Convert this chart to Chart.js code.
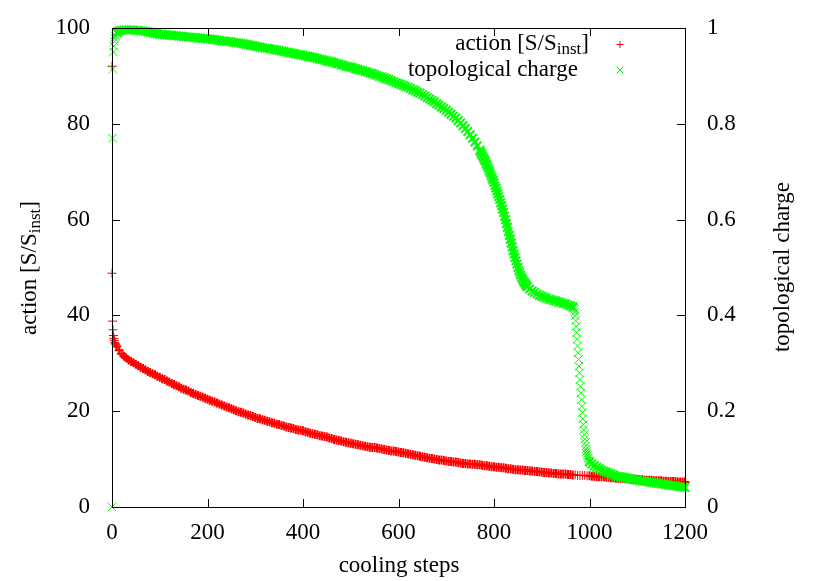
<!DOCTYPE html>
<html>
<head>
<meta charset="utf-8">
<script src="https://cdn.jsdelivr.net/npm/chart.js@4.4.0/dist/chart.umd.min.js"></script>
<style>
  html, body { margin: 0; padding: 0; background: #fff; }
</style>
</head>
<body>
<canvas id="chart" width="830" height="581"></canvas>
<script>
// ticks
const xTicks = [0, 200, 400, 600, 800, 1000, 1200];
const yTicks = [0, 20, 40, 60, 80, 100];
const y2Ticks = [0, 0.2, 0.4, 0.6, 0.8, 1];

// action [S/S_inst] (left axis)
const actionSteps = [
  0, 0, 1, 2, 3, 4, 5, 6, 7, 8,
  10, 15, 20, 25, 30, 35, 40, 45, 50, 55, 60, 65, 70, 75, 80, 85, 90, 95, 100,
  105, 110, 115, 120, 125, 130, 135, 140, 145, 150, 155, 160, 165, 170, 175, 180, 185, 190, 195, 200,
  205, 210, 215, 220, 225, 230, 235, 240, 245, 250, 255, 260, 265, 270, 275, 280, 285, 290, 295, 300,
  305, 310, 315, 320, 325, 330, 335, 340, 345, 350, 355, 360, 365, 370, 375, 380, 385, 390, 395, 400,
  405, 410, 415, 420, 425, 430, 435, 440, 445, 450, 455, 460, 465, 470, 475, 480, 485, 490, 495, 500,
  505, 510, 515, 520, 525, 530, 535, 540, 545, 550, 555, 560, 565, 570, 575, 580, 585, 590, 595, 600,
  605, 610, 615, 620, 625, 630, 635, 640, 645, 650, 655, 660, 665, 670, 675, 680, 685, 690, 695, 700,
  705, 710, 715, 720, 725, 730, 735, 740, 745, 750, 755, 760, 765, 770, 775, 780, 785, 790, 795, 800,
  805, 810, 815, 820, 825, 830, 835, 840, 845, 850, 855, 860, 865, 870, 875, 880, 885, 890, 895, 900,
  905, 910, 915, 920, 925, 930, 935, 940, 945, 950, 955, 960, 965, 970, 975, 980, 985, 990, 995, 1000,
  1005, 1010, 1015, 1020, 1025, 1030, 1035, 1040, 1045, 1050, 1055, 1060, 1065, 1070, 1075, 1080, 1085, 1090, 1095, 1100,
  1105, 1110, 1115, 1120, 1125, 1130, 1135, 1140, 1145, 1150, 1155, 1160, 1165, 1170, 1175, 1180, 1185, 1190, 1195, 1200
];
const actionValues = [
  92.0, 48.8, 38.8, 37.0, 35.8, 35.2, 34.8, 34.4, 34.1, 33.9,
  33.5, 32.7, 32.0, 31.5, 31.1, 30.7, 30.4, 30.1, 29.8, 29.5, 29.2, 28.9, 28.6, 28.3, 28.1, 27.8, 27.6, 27.3, 27.1,
  26.8, 26.6, 26.3, 26.1, 25.8, 25.6, 25.3, 25.1, 24.8, 24.6, 24.4, 24.2, 23.9, 23.7, 23.5, 23.3, 23.1, 22.9, 22.7, 22.5,
  22.3, 22.1, 21.9, 21.7, 21.5, 21.3, 21.1, 20.9, 20.7, 20.5, 20.3, 20.1, 19.9, 19.8, 19.6, 19.4, 19.2, 19.1, 18.9, 18.7,
  18.5, 18.4, 18.2, 18.1, 17.9, 17.8, 17.6, 17.5, 17.3, 17.2, 17.0, 16.9, 16.7, 16.6, 16.5, 16.4, 16.2, 16.1, 16.0, 15.9,
  15.7, 15.6, 15.4, 15.3, 15.2, 15.1, 14.9, 14.8, 14.7, 14.6, 14.4, 14.3, 14.1, 14.0, 13.9, 13.8, 13.6, 13.5, 13.4, 13.3,
  13.2, 13.1, 13.0, 12.9, 12.8, 12.7, 12.6, 12.5, 12.4, 12.4, 12.3, 12.2, 12.1, 12.0, 11.9, 11.8, 11.7, 11.7, 11.6, 11.5,
  11.4, 11.3, 11.2, 11.1, 11.0, 10.9, 10.8, 10.7, 10.6, 10.5, 10.4, 10.3, 10.2, 10.1, 10.0, 9.9, 9.8, 9.8, 9.7, 9.6,
  9.5, 9.5, 9.4, 9.4, 9.3, 9.2, 9.1, 9.1, 9.0, 9.0, 8.9, 8.9, 8.8, 8.8, 8.7, 8.6, 8.6, 8.5, 8.4, 8.4,
  8.3, 8.3, 8.2, 8.2, 8.1, 8.0, 8.0, 7.9, 7.8, 7.8, 7.7, 7.7, 7.6, 7.6, 7.5, 7.5, 7.4, 7.4, 7.3, 7.3,
  7.2, 7.2, 7.1, 7.1, 7.0, 7.0, 6.9, 6.9, 6.9, 6.9, 6.8, 6.8, 6.7, 6.7, 6.6, 6.6, 6.6, 6.6, 6.5, 6.5,
  6.4, 6.4, 6.3, 6.3, 6.3, 6.3, 6.2, 6.2, 6.1, 6.1, 6.0, 6.0, 6.0, 6.0, 5.9, 5.9, 5.8, 5.8, 5.8, 5.8,
  5.7, 5.7, 5.6, 5.6, 5.6, 5.6, 5.5, 5.5, 5.5, 5.5, 5.4, 5.4, 5.3, 5.3, 5.3, 5.3, 5.2, 5.2, 5.2, 5.2
];

// topological charge (right axis)
const chargeSteps = [
  0, 1, 2, 3, 4, 5, 6, 7, 8, 10, 12, 15, 20, 25,
  30, 35, 40, 45, 50, 55, 60, 65, 70, 75, 80, 85, 90, 95, 100,
  105, 110, 115, 120, 125, 130, 135, 140, 145, 150, 155, 160, 165, 170, 175, 180, 185, 190, 195, 200,
  205, 210, 215, 220, 225, 230, 235, 240, 245, 250, 255, 260, 265, 270, 275, 280, 285, 290, 295, 300,
  305, 310, 315, 320, 325, 330, 335, 340, 345, 350, 355, 360, 365, 370, 375, 380, 385, 390, 395, 400,
  405, 410, 415, 420, 425, 430, 435, 440, 445, 450, 455, 460, 465, 470, 475, 480, 485, 490, 495, 500,
  505, 510, 515, 520, 525, 530, 535, 540, 545, 550, 555, 560, 565, 570, 575, 580, 585, 590, 595, 600,
  605, 610, 615, 620, 625, 630, 635, 640, 645, 650, 655, 660, 665, 670, 675, 680, 685, 690, 695, 700,
  705, 710, 715, 720, 725, 730, 735, 740, 745, 750, 755, 760, 765,
  770, 772, 774, 776, 778, 780, 782, 784, 786, 788, 790, 792, 794, 796, 798, 800,
  802, 804, 806, 808, 810, 812, 814, 816, 818, 820, 822, 824, 826, 828, 830,
  832, 834, 836, 838, 840, 842, 844, 846, 848, 850, 852, 854, 856, 858, 860,
  862, 864, 866, 868, 870, 875, 880, 885, 890, 895, 900,
  905, 910, 915, 920, 925, 930, 935, 940, 945, 950, 955, 960, 965,
  966, 967, 968, 969, 970, 971, 972, 973, 974, 975,
  976, 977, 978, 979, 980, 981, 982, 983, 984, 985,
  986, 987, 988, 989, 990, 991, 992, 993, 994, 995,
  996, 997, 998, 999, 1000,
  1005, 1010, 1015, 1020, 1025, 1030, 1035, 1040, 1045, 1050, 1055, 1060, 1065, 1070, 1075, 1080, 1085, 1090, 1095, 1100,
  1105, 1110, 1115, 1120, 1125, 1130, 1135, 1140, 1145, 1150, 1155, 1160, 1165, 1170, 1175, 1180, 1185, 1190, 1195, 1200
];
const chargeValues = [
  0.0, 0.770, 0.914, 0.950, 0.962, 0.972, 0.978, 0.982, 0.985, 0.990, 0.992, 0.994, 0.995, 0.996,
  0.996, 0.996, 0.996, 0.996, 0.995, 0.995, 0.994, 0.994, 0.993, 0.992, 0.991, 0.990, 0.989, 0.988, 0.987,
  0.987, 0.986, 0.986, 0.985, 0.985, 0.984, 0.984, 0.983, 0.983, 0.982, 0.982, 0.981, 0.981, 0.980, 0.980, 0.979, 0.979, 0.978, 0.978, 0.977,
  0.977, 0.976, 0.976, 0.975, 0.974, 0.973, 0.973, 0.972, 0.972, 0.971, 0.970, 0.969, 0.969, 0.968, 0.967, 0.966, 0.965, 0.964, 0.963, 0.962,
  0.961, 0.960, 0.959, 0.958, 0.958, 0.957, 0.956, 0.955, 0.954, 0.953, 0.952, 0.951, 0.950, 0.949, 0.948, 0.947, 0.946, 0.945, 0.944, 0.943,
  0.942, 0.941, 0.940, 0.939, 0.938, 0.936, 0.935, 0.934, 0.933, 0.931, 0.930, 0.929, 0.928, 0.926, 0.925, 0.923, 0.922, 0.920, 0.919, 0.918,
  0.917, 0.915, 0.914, 0.912, 0.911, 0.909, 0.908, 0.906, 0.905, 0.903, 0.901, 0.899, 0.898, 0.896, 0.894, 0.892, 0.890, 0.888, 0.886, 0.884,
  0.882, 0.880, 0.878, 0.876, 0.874, 0.871, 0.869, 0.866, 0.864, 0.861, 0.858, 0.855, 0.852, 0.849, 0.846, 0.842, 0.839, 0.835, 0.832, 0.828,
  0.824, 0.820, 0.816, 0.812, 0.807, 0.802, 0.796, 0.790, 0.784, 0.777, 0.770, 0.762, 0.754,
  0.745, 0.741, 0.737, 0.733, 0.729, 0.725, 0.721, 0.716, 0.712, 0.707, 0.702, 0.697, 0.692, 0.687, 0.682, 0.677,
  0.671, 0.666, 0.660, 0.654, 0.648, 0.642, 0.635, 0.629, 0.622, 0.615, 0.607, 0.600, 0.592, 0.584, 0.575,
  0.567, 0.559, 0.551, 0.543, 0.535, 0.528, 0.521, 0.514, 0.507, 0.500, 0.494, 0.489, 0.484, 0.479, 0.475,
  0.471, 0.468, 0.465, 0.462, 0.460, 0.455, 0.451, 0.448, 0.445, 0.442, 0.440,
  0.438, 0.436, 0.434, 0.433, 0.431, 0.430, 0.428, 0.427, 0.425, 0.424, 0.422, 0.420, 0.418,
  0.417, 0.415, 0.412, 0.407, 0.399, 0.389, 0.377, 0.364, 0.350, 0.336,
  0.322, 0.308, 0.294, 0.280, 0.266, 0.252, 0.238, 0.224, 0.210, 0.197,
  0.184, 0.172, 0.161, 0.151, 0.142, 0.134, 0.127, 0.121, 0.116, 0.111,
  0.107, 0.103, 0.100, 0.097, 0.094,
  0.090, 0.086, 0.083, 0.080, 0.077, 0.075, 0.073, 0.071, 0.069, 0.067, 0.065, 0.064, 0.063, 0.062, 0.061, 0.060, 0.059, 0.058, 0.057, 0.056,
  0.055, 0.054, 0.054, 0.053, 0.052, 0.051, 0.051, 0.050, 0.049, 0.048, 0.048, 0.047, 0.046, 0.045, 0.045, 0.044, 0.043, 0.042, 0.042, 0.041
];

const FONT = "'Liberation Serif', 'Times New Roman', serif";
const RED = '#ff0000';
const GREEN = '#00ff00';

Chart.defaults.font.family = FONT;
Chart.defaults.font.size = 23;
Chart.defaults.color = '#000';

// text with an optional subscript part
function drawParts(ctx, parts, x, y, align) {
  let total = 0;
  parts.forEach(p => {
    ctx.font = (p.sub ? 17 : 23) + 'px ' + FONT;
    p.w = ctx.measureText(p.t).width;
    total += p.w;
  });
  let cx = align === 'right' ? x - total : (align === 'center' ? x - total / 2 : x);
  ctx.textAlign = 'left';
  ctx.textBaseline = 'middle';
  parts.forEach(p => {
    ctx.font = (p.sub ? 17 : 23) + 'px ' + FONT;
    ctx.fillText(p.t, cx, y + (p.sub ? 6 : 0));
    cx += p.w;
  });
}

const actionLabel = () => [{ t: 'action [S/S' }, { t: 'inst', sub: true }, { t: ']' }];

// isolated points (first steps, fast drop) are drawn thin, the dense band thicker
const markWidth = c => {
  const x = c.raw ? c.raw.x : 0;
  return (x < 10 || (x > 965 && x < 1000)) ? 1 : 2;
};

const framePlugin = {
  id: 'gnuplotFrame',
  afterDatasetsDraw(chart) {
    const ctx = chart.ctx;
    const a = chart.chartArea;
    const sx = chart.scales.x, sy = chart.scales.y, sy2 = chart.scales.y2;
    const tl = 8;
    ctx.save();
    ctx.strokeStyle = '#000';
    ctx.lineWidth = 1;
    ctx.beginPath();
    xTicks.forEach(v => {
      const px = Math.round(sx.getPixelForValue(v)) + 0.5;
      ctx.moveTo(px, a.bottom); ctx.lineTo(px, a.bottom - tl);
      ctx.moveTo(px, a.top); ctx.lineTo(px, a.top + tl);
    });
    yTicks.forEach(v => {
      const py = Math.round(sy.getPixelForValue(v)) + 0.5;
      ctx.moveTo(a.left, py); ctx.lineTo(a.left + tl, py);
    });
    y2Ticks.forEach(v => {
      const py = Math.round(sy2.getPixelForValue(v)) + 0.5;
      ctx.moveTo(a.right, py); ctx.lineTo(a.right - tl, py);
    });
    ctx.stroke();
    ctx.strokeRect(Math.round(a.left) + 0.5, Math.round(a.top) + 0.5,
      Math.round(a.right - a.left), Math.round(a.bottom - a.top));

    // key (top right)
    ctx.fillStyle = '#000';
    drawParts(ctx, actionLabel(), 589, 44, 'right');
    drawParts(ctx, [{ t: 'topological charge' }], 578, 70, 'right');
    ctx.lineWidth = 1;
    ctx.strokeStyle = RED;
    ctx.beginPath();
    ctx.moveTo(616.5, 44.5); ctx.lineTo(623.5, 44.5);
    ctx.moveTo(620, 41); ctx.lineTo(620, 48);
    ctx.stroke();
    ctx.strokeStyle = GREEN;
    ctx.beginPath();
    ctx.moveTo(616.5, 66.5); ctx.lineTo(623.5, 73.5);
    ctx.moveTo(623.5, 66.5); ctx.lineTo(616.5, 73.5);
    ctx.stroke();

    // axis titles
    ctx.fillStyle = '#000';
    drawParts(ctx, [{ t: 'cooling steps' }], 399, 566, 'center');
    ctx.save();
    ctx.translate(30, 268);
    ctx.rotate(-Math.PI / 2);
    drawParts(ctx, actionLabel(), 0, 0, 'center');
    ctx.restore();
    ctx.save();
    ctx.translate(783, 267);
    ctx.rotate(-Math.PI / 2);
    drawParts(ctx, [{ t: 'topological charge' }], 0, 0, 'center');
    ctx.restore();
    ctx.restore();
  }
};

const fixedTicks = arr => scale => { scale.ticks = arr.map(v => ({ value: v })); };

new Chart(document.getElementById('chart'), {
  type: 'scatter',
  data: {
    datasets: [
      {
        label: 'topological charge',
        data: chargeSteps.map((s, i) => ({ x: s, y: chargeValues[i] })),
        yAxisID: 'y2',
        pointStyle: 'crossRot',
        pointRadius: 6,
        borderColor: GREEN,
        backgroundColor: GREEN,
        borderWidth: markWidth,
        clip: false,
        order: 0
      },
      {
        label: 'action [S/S_inst]',
        data: actionSteps.map((s, i) => ({ x: s, y: actionValues[i] })),
        yAxisID: 'y',
        pointStyle: 'cross',
        pointRadius: 4.5,
        borderColor: RED,
        backgroundColor: RED,
        borderWidth: markWidth,
        clip: false,
        order: 1
      }
    ]
  },
  options: {
    responsive: false,
    devicePixelRatio: 1,
    animation: false,
    layout: { padding: { top: 28, left: 0, right: 0, bottom: 0 } },
    plugins: {
      legend: { display: false },
      tooltip: { enabled: false }
    },
    scales: {
      x: {
        type: 'linear', min: 0, max: 1200,
        grid: { display: false }, border: { display: false },
        ticks: { padding: 4, maxRotation: 0, callback: v => String(v) },
        afterBuildTicks: fixedTicks(xTicks),
        afterFit: s => { s.height = 74; }
      },
      y: {
        position: 'left', min: 0, max: 100,
        grid: { display: false }, border: { display: false },
        ticks: { padding: 14, callback: v => String(v) },
        afterBuildTicks: fixedTicks(yTicks),
        afterFit: s => { s.width = 112; }
      },
      y2: {
        position: 'right', min: 0, max: 1,
        grid: { display: false }, border: { display: false },
        ticks: { padding: 14, callback: v => String(v) },
        afterBuildTicks: fixedTicks(y2Ticks),
        afterFit: s => { s.width = 145; }
      }
    }
  },
  plugins: [framePlugin]
});
</script>
</body>
</html>
